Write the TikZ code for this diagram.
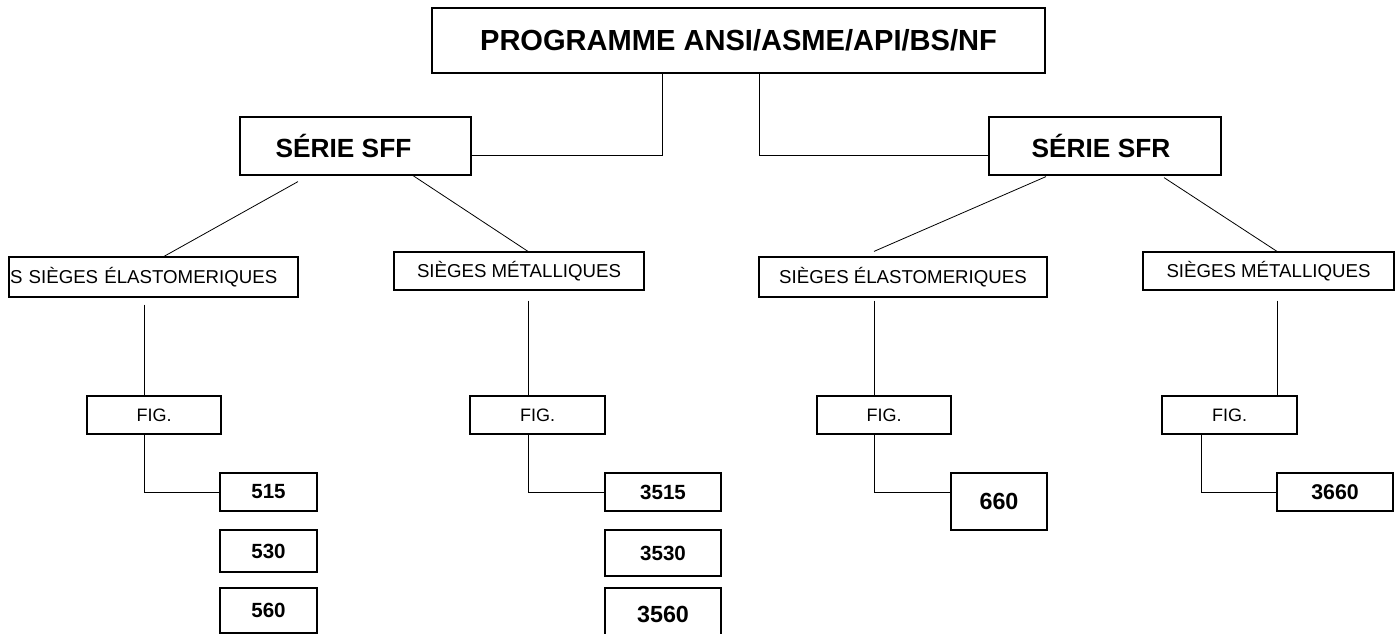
\documentclass[tikz,border=0pt]{standalone}
\usepackage{fontspec}
\setmainfont{Liberation Sans}
\usetikzlibrary{calc}

\tikzset{
  boite/.style={draw, line width=0.9pt, inner sep=0pt, align=center},
  taille/.style 2 args={minimum width=#1*0.75pt, minimum height=#2*0.75pt},
  lien/.style={line width=0.6pt},
  titre/.style={font=\fontsize{21.8}{26}\selectfont\bfseries},
  serie/.style={font=\fontsize{19.7}{24}\selectfont\bfseries},
  siege/.style={font=\fontsize{14}{17}\selectfont},
  fig/.style={font=\fontsize{13.5}{16}\selectfont},
  num/.style={font=\fontsize{15.4}{18}\selectfont\bfseries},
}

\begin{document}
\begin{tikzpicture}[x=0.75pt,y=-0.75pt]
\useasboundingbox (0,0) rectangle (1398,634);

% programme and series
\node[boite, taille={613}{65}, titre] (prog) at (738.5,40.5) {PROGRAMME ANSI/ASME/API/BS/NF};
\node[boite, taille={231}{58}, serie] (sff) at (355.5,146) {SÉRIE SFF\hspace{18pt}};
\node[boite, taille={232}{58}, serie] (sfr) at (1105,146) {SÉRIE SFR\hspace{6pt}};

% seats
\node[boite, minimum height=40*0.75pt, text width=287*0.75pt, inner xsep=0.75pt,
      align=left, siege] (elastA) at (153.5,277) {S SIÈGES ÉLASTOMERIQUES};
\node[boite, taille={250}{38}, siege] (metalA) at (519,271) {SIÈGES MÉTALLIQUES};
\node[boite, taille={288}{40}, siege] (elastB) at (903,277) {SIÈGES ÉLASTOMERIQUES};
\node[boite, taille={251}{38}, siege] (metalB) at (1268.5,271) {SIÈGES MÉTALLIQUES};

% figures
\node[boite, taille={134}{38}, fig] (figA) at (154,415) {FIG.};
\node[boite, taille={135}{38}, fig] (figB) at (537.5,415) {FIG.};
\node[boite, taille={134}{38}, fig] (figC) at (884,415) {FIG.};
\node[boite, taille={135}{38}, fig] (figD) at (1229.5,415) {FIG.};

% numbers
\node[boite, taille={97}{38}, num] (n515) at (268.5,492) {515};
\node[boite, taille={97}{42}, num] (n530) at (268.5,551) {530};
\node[boite, taille={97}{45}, num] (n560) at (268.5,610.5) {560};
\node[boite, taille={116}{38}, num] (n3515) at (663,492) {3515};
\node[boite, taille={116}{46}, num] (n3530) at (663,553) {3530};
\node[boite, taille={116}{52}, num, font=\fontsize{17.5}{20}\selectfont\bfseries] (n3560) at (663,614) {3560};
\node[boite, taille={96}{57}, num, font=\fontsize{17.5}{20}\selectfont\bfseries] (n660) at (999,501.5) {660};
\node[boite, taille={116}{38}, num, font=\fontsize{16}{19}\selectfont\bfseries] (n3660) at (1335,492) {3660};

% links
\coordinate (coudeA) at (662,155);
\coordinate (coudeB) at (759,155);
\draw[lien] (prog.south -| coudeA) -- (coudeA) -- (coudeA -| sff.east);
\draw[lien] (prog.south -| coudeB) -- (coudeB) -- (coudeB -| sfr.west);

\draw[lien] ($(sff.south -| 298,0)+(0,6)$) -- (elastA.north -| 164,0);
\draw[lien] (sff.south -| 413,0) -- (metalA.north -| 528,0);
\draw[lien] ($(sfr.south -| 1046,0)+(0,1)$) -- ($(elastB.north -| 874,0)+(0,-5)$);
\draw[lien] ($(sfr.south -| 1164,0)+(0,2)$) -- (metalB.north -| 1277,0);

\draw[lien] ($(elastA.south -| figA.north)+(-10,7)$) -- ($(figA.north)+(-10,0)$);
\draw[lien] ($(metalA.south -| 528,0)+(0,10)$) -- (figB.north -| 528,0);
\draw[lien] ($(elastB.south -| 874,0)+(0,3)$) -- (figC.north -| 874,0);
\draw[lien] ($(metalB.south -| 1277,0)+(0,10)$) -- (figD.north -| 1277,0);

\draw[lien] (figA.south -| 144,0) |- (n515.west);
\draw[lien] (figB.south -| 528,0) |- (n3515.west);
\draw[lien] (figC.south -| 874,0) |- ($(n660.west)+(0,-9.5)$);
\draw[lien] (figD.south -| 1201,0) |- (n3660.west);
\end{tikzpicture}
\end{document}
